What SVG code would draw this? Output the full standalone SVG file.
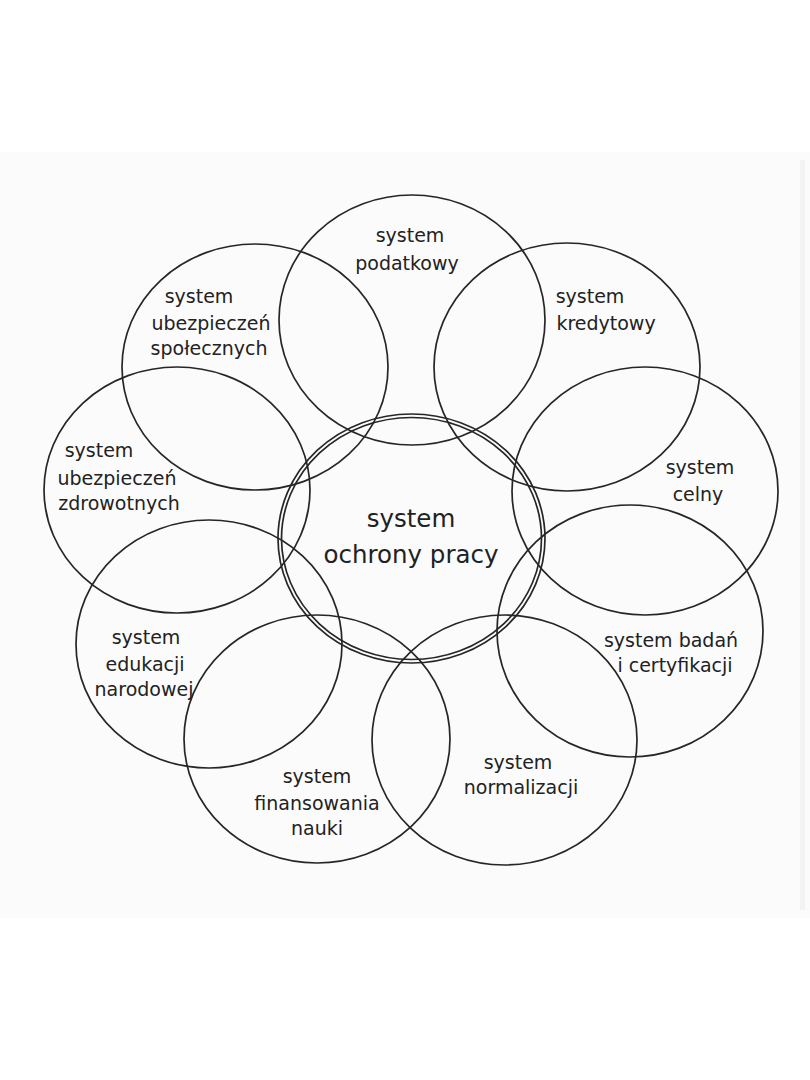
<svg xmlns="http://www.w3.org/2000/svg" width="810" height="1080" viewBox="0 0 810 1080">
<style>
.c{fill:none;stroke:#262626;stroke-width:1.7}
.t{font-family:"DejaVu Sans",Verdana,sans-serif;font-size:19px;fill:#222222;text-anchor:middle}
.big{font-size:24.5px}
</style>
<rect x="0" y="0" width="810" height="1080" fill="#ffffff"/>
<rect x="0" y="152" width="810" height="766" fill="#fbfbfb"/>
<rect x="800" y="160" width="5" height="750" fill="#f3f3f3"/>
<g id="n-podatkowy">
<ellipse class="c" cx="412" cy="320" rx="133" ry="125"/>
<text class="t" x="410" y="242">system</text>
<text class="t" x="407" y="270">podatkowy</text>
</g>
<g id="n-kredytowy">
<ellipse class="c" cx="567" cy="367" rx="133" ry="124"/>
<text class="t" x="590" y="303">system</text>
<text class="t" x="606" y="330">kredytowy</text>
</g>
<g id="n-celny">
<ellipse class="c" cx="645" cy="491" rx="133" ry="124"/>
<text class="t" x="700" y="474">system</text>
<text class="t" x="698" y="501">celny</text>
</g>
<g id="n-badan">
<ellipse class="c" cx="630" cy="631" rx="133" ry="126"/>
<text class="t" x="671" y="647">system badań</text>
<text class="t" x="675" y="672">i certyfikacji</text>
</g>
<g id="n-normalizacji">
<ellipse class="c" cx="504.5" cy="740" rx="132.5" ry="125"/>
<text class="t" x="518" y="769">system</text>
<text class="t" x="521" y="794">normalizacji</text>
</g>
<g id="n-finansowania">
<ellipse class="c" cx="317" cy="739" rx="133" ry="124"/>
<text class="t" x="317" y="783">system</text>
<text class="t" x="317" y="810">finansowania</text>
<text class="t" x="317" y="835">nauki</text>
</g>
<g id="n-edukacji">
<ellipse class="c" cx="209" cy="644" rx="133" ry="124"/>
<text class="t" x="146" y="644">system</text>
<text class="t" x="145" y="671">edukacji</text>
<text class="t" x="144" y="696">narodowej</text>
</g>
<g id="n-zdrowotnych">
<ellipse class="c" cx="177" cy="490" rx="133" ry="123"/>
<text class="t" x="99" y="457">system</text>
<text class="t" x="117" y="485">ubezpieczeń</text>
<text class="t" x="119" y="510">zdrowotnych</text>
</g>
<g id="n-spolecznych">
<ellipse class="c" cx="255" cy="367" rx="133" ry="123"/>
<text class="t" x="199" y="303">system</text>
<text class="t" x="211" y="330">ubezpieczeń</text>
<text class="t" x="209" y="355">społecznych</text>
</g>
<g id="n-ochrony">
<ellipse class="c" cx="411.5" cy="538.5" rx="133.5" ry="124.5"/>
<ellipse class="c" cx="411.5" cy="538.5" rx="130" ry="121"/>
<text class="t big" x="411" y="527">system</text>
<text class="t big" x="411" y="563">ochrony pracy</text>
</g>
<g id="connectors"></g>
</svg>
